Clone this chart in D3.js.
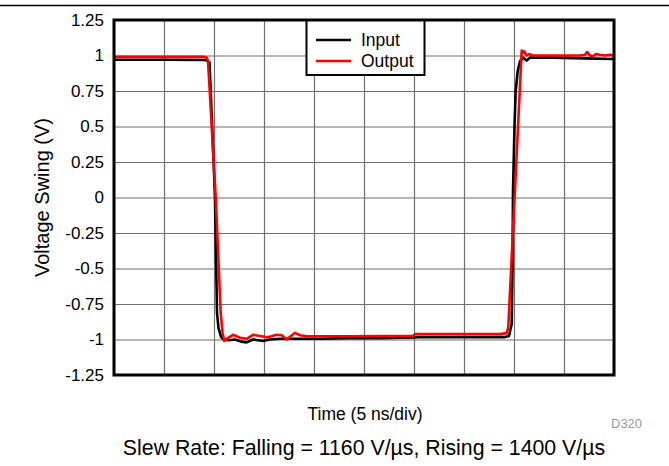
<!DOCTYPE html>
<html><head><meta charset="utf-8">
<script src="https://cdn.jsdelivr.net/npm/d3@7"></script>
<style>
html,body{margin:0;padding:0;background:#fff;}
svg{display:block;font-family:"Liberation Sans",Arial,sans-serif;}
</style></head>
<body><svg id="c" width="669" height="466"></svg>
<script>
// Time in ns (5 ns/div, 10 divisions), voltage in V
const yTicks = [1.25, 1, 0.75, 0.5, 0.25, 0, -0.25, -0.5, -0.75, -1, -1.25];
const yTickLabels = ["1.25","1","0.75","0.5","0.25","0","-0.25","-0.5","-0.75","-1","-1.25"];
const xGrid = [0, 5, 10, 15, 20, 25, 30, 35, 40, 45, 50];

const inputT = [0, 5, 9.0, 9.3, 9.55, 9.7, 9.9, 10.1, 10.25, 10.3, 10.45, 10.7, 10.93, 11.5, 12.1, 12.7, 13.27, 13.9, 14.4, 14.9, 15.6, 16.6, 18.6, 20.6, 23.6, 26.6, 30.0, 30.6, 34.6, 39.1, 39.5, 39.77, 39.85, 39.9, 40.05, 40.17, 40.37, 40.6, 40.9, 41.27, 41.6, 44, 47, 50];
const inputV = [0.97, 0.97, 0.968, 0.965, 0.95, 0.70, 0.35, 0.0, -0.6, -0.81, -0.92, -0.98, -1.0, -1.005, -1.0, -1.015, -1.02, -1.0, -1.005, -1.01, -1.0, -0.995, -0.995, -0.995, -0.99, -0.99, -0.985, -0.983, -0.983, -0.983, -0.975, -0.89, -0.5, 0.05, 0.5, 0.75, 0.89, 0.96, 0.985, 0.965, 0.985, 0.985, 0.98, 0.975];

const outputT = [0, 5, 9.0, 9.27, 9.4, 9.5, 10.17, 10.67, 10.85, 11.03, 11.27, 11.9, 12.6, 13.27, 13.9, 14.6, 15.4, 16.27, 16.77, 17.27, 18.1, 18.6, 19.27, 20.6, 23.6, 26.6, 29.9, 30.1, 33.6, 38.6, 39.27, 39.43, 40.1, 40.77, 40.9, 41.0, 41.27, 41.5, 41.9, 44.6, 46.6, 47.1, 47.3, 47.6, 47.9, 48.2, 48.6, 49.1, 49.6, 50];
const outputV = [0.99, 0.99, 0.99, 0.985, 0.96, 0.84, 0.0, -0.81, -0.95, -1.01, -0.995, -0.967, -0.988, -0.995, -0.967, -0.975, -0.985, -0.967, -0.97, -1.0, -0.953, -0.97, -0.978, -0.977, -0.977, -0.975, -0.975, -0.962, -0.962, -0.962, -0.955, -0.91, 0.06, 1.035, 1.02, 1.03, 1.0, 1.01, 1.0, 1.0, 1.0, 1.005, 1.025, 1.0, 0.995, 1.01, 1.005, 1.0, 1.005, 1.0];

const seriesNames = ["Input", "Output"];
const seriesColors = ["#000000", "#ff0000"];

const svg = d3.select("#c");
const L = 114, R = 614, T = 20, B = 375;
const x = d3.scaleLinear().domain([0, 50]).range([L, R]);
const y = d3.scaleLinear().domain([-1.25, 1.25]).range([B, T]);

// top rule
svg.append("line").attr("x1", 0).attr("x2", 669).attr("y1", 5.5).attr("y2", 5.5)
  .attr("stroke", "#000").attr("stroke-width", 1.5);

// grid
const gy = svg.append("g").attr("transform", `translate(${L},0)`)
  .call(d3.axisLeft(y).tickValues(yTicks).tickSize(-(R - L)).tickFormat(""));
gy.select(".domain").remove();
gy.selectAll("line").attr("stroke", "#707070").attr("stroke-width", 1.2);
const gx = svg.append("g").attr("transform", `translate(0,${B})`)
  .call(d3.axisBottom(x).tickValues(xGrid).tickSize(-(B - T)).tickFormat(""));
gx.select(".domain").remove();
gx.selectAll("line").attr("stroke", "#707070").attr("stroke-width", 1.2);

// y tick labels
const ya = svg.append("g").attr("transform", `translate(${L - 10},0)`)
  .call(d3.axisLeft(y).tickValues(yTicks).tickSize(0).tickPadding(0)
    .tickFormat((d, i) => yTickLabels[i]));
ya.select(".domain").remove();
ya.selectAll("text").attr("font-size", 17).attr("fill", "#000")
  .attr("font-family", "Liberation Sans, Arial, sans-serif");

// lines
const line = d3.line().x(d => x(d[0])).y(d => y(d[1]));
const inputData = inputT.map((t, i) => [t, inputV[i]]);
const outputData = outputT.map((t, i) => [t, outputV[i]]);
svg.append("path").datum(inputData).attr("d", line).attr("fill", "none")
  .attr("stroke", seriesColors[0]).attr("stroke-width", 2.6).attr("stroke-linejoin", "round");
svg.append("path").datum(outputData).attr("d", line).attr("fill", "none")
  .attr("stroke", seriesColors[1]).attr("stroke-width", 2.6).attr("stroke-linejoin", "round");

// legend
const lg = svg.append("g");
lg.append("rect").attr("x", 306.5).attr("y", T).attr("width", 118).attr("height", 55)
  .attr("fill", "#fff").attr("stroke", "#000").attr("stroke-width", 2);
seriesNames.forEach((n, i) => {
  const yy = 40 + i * 21;
  lg.append("line").attr("x1", 316).attr("x2", 351).attr("y1", yy).attr("y2", yy)
    .attr("stroke", seriesColors[i]).attr("stroke-width", 2.6);
  lg.append("text").attr("x", 361).attr("y", yy + 6).attr("font-size", 17.5).text(n);
});

// frame
svg.append("rect").attr("x", L).attr("y", T).attr("width", R - L).attr("height", B - T)
  .attr("fill", "none").attr("stroke", "#000").attr("stroke-width", 3);

// titles
svg.append("text").attr("transform", `translate(49,${(T + B) / 2}) rotate(-90)`)
  .attr("text-anchor", "middle").attr("font-size", 20).text("Voltage Swing (V)");
svg.append("text").attr("x", 365).attr("y", 420).attr("text-anchor", "middle")
  .attr("font-size", 17.5).text("Time (5 ns/div)");
svg.append("text").attr("x", 611).attr("y", 428).attr("font-size", 13).attr("fill", "#999")
  .text("D320");
svg.append("text").attr("x", 364).attr("y", 455).attr("text-anchor", "middle")
  .attr("font-size", 21.3).text("Slew Rate: Falling = 1160 V/µs, Rising = 1400 V/µs");
</script></body></html>
